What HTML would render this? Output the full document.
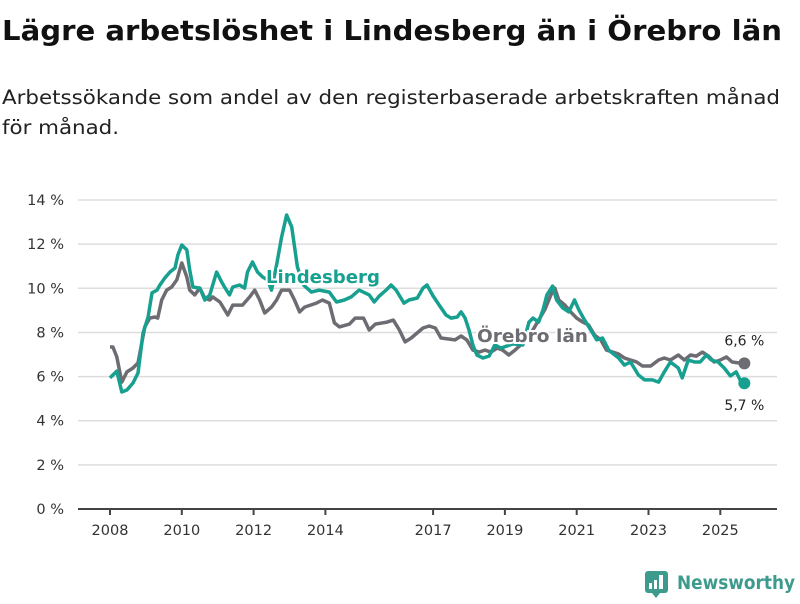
<!DOCTYPE html>
<html><head><meta charset="utf-8"><style>
body{margin:0;background:#fff;width:800px;height:600px;overflow:hidden;font-family:"DejaVu Sans","Liberation Sans",sans-serif}
</style></head><body>
<svg id="chart" width="800" height="600" xmlns="http://www.w3.org/2000/svg" font-family="DejaVu Sans, Liberation Sans, sans-serif">
<text x="2" y="40" font-size="28" font-weight="bold" fill="#111" textLength="780" lengthAdjust="spacingAndGlyphs">Lägre arbetslöshet i Lindesberg än i Örebro län</text>
<text x="2" y="104" font-size="19.5" fill="#222" textLength="778" lengthAdjust="spacingAndGlyphs">Arbetssökande som andel av den registerbaserade arbetskraften månad</text>
<text x="2" y="134" font-size="19.5" fill="#222" textLength="117" lengthAdjust="spacingAndGlyphs">för månad.</text>
<g id="grid"></g><g id="yticks"></g><g id="xaxis"></g><g id="lines"></g><g id="labels"></g>
<g>
<rect x="645" y="571" width="23" height="22" rx="3" fill="#3d9b8e"/>
<path d="M652 593 L656 598 L660 593Z" fill="#3d9b8e"/>
<rect x="649" y="583" width="3" height="6" fill="#fff"/><rect x="654" y="580" width="3" height="9" fill="#fff"/><rect x="659" y="575" width="4" height="14" fill="#fff"/>
<text x="677" y="589" font-size="19" font-weight="bold" fill="#3d9b8e" textLength="118" lengthAdjust="spacingAndGlyphs">Newsworthy</text>
</g>
</svg>
<script>
const yTicks=[0,2,4,6,8,10,12,14];
const xTicks=[2008,2010,2012,2014,2017,2019,2021,2023,2025];
const greyYears=[2008.0,2008.08,2008.19,2008.33,2008.47,2008.64,2008.78,2008.97,2009.11,2009.25,2009.33,2009.44,2009.58,2009.72,2009.86,2010.0,2010.14,2010.22,2010.36,2010.5,2010.64,2010.78,2010.86,2011.06,2011.28,2011.42,2011.69,2011.89,2012.03,2012.17,2012.31,2012.5,2012.64,2012.78,2013.0,2013.14,2013.28,2013.42,2013.75,2013.92,2014.11,2014.25,2014.39,2014.67,2014.83,2015.06,2015.22,2015.39,2015.72,2015.89,2016.06,2016.22,2016.39,2016.72,2016.89,2017.06,2017.22,2017.61,2017.78,2017.94,2018.11,2018.28,2018.44,2018.61,2018.78,2018.94,2019.11,2019.28,2019.44,2019.61,2019.78,2019.94,2020.11,2020.28,2020.39,2020.5,2020.67,2020.83,2021.0,2021.17,2021.33,2021.5,2021.67,2021.83,2022.0,2022.17,2022.33,2022.5,2022.67,2022.83,2023.06,2023.28,2023.44,2023.61,2023.83,2024.0,2024.17,2024.33,2024.5,2024.67,2024.83,2025.0,2025.17,2025.33,2025.5,2025.67];
const greyValues=[7.34,7.34,6.89,5.75,6.21,6.39,6.62,8.25,8.65,8.70,8.65,9.47,9.92,10.06,10.38,11.15,10.51,9.92,9.70,10.01,9.56,9.47,9.61,9.38,8.79,9.24,9.24,9.61,9.92,9.47,8.88,9.15,9.47,9.92,9.92,9.47,8.93,9.15,9.33,9.47,9.33,8.43,8.25,8.38,8.65,8.65,8.11,8.38,8.47,8.56,8.11,7.57,7.75,8.20,8.29,8.20,7.75,7.66,7.84,7.66,7.20,7.11,7.20,7.11,7.29,7.20,6.98,7.20,7.43,7.75,8.11,8.56,9.02,9.70,10.01,9.47,9.24,8.93,8.65,8.47,8.34,7.88,7.66,7.20,7.11,7.02,6.84,6.75,6.66,6.48,6.48,6.75,6.84,6.75,6.98,6.75,6.98,6.93,7.11,6.93,6.66,6.75,6.89,6.66,6.62,6.6];
const tealYears=[2008.0,2008.19,2008.33,2008.47,2008.64,2008.78,2008.92,2009.06,2009.17,2009.31,2009.39,2009.53,2009.67,2009.81,2009.89,2010.0,2010.14,2010.22,2010.31,2010.5,2010.64,2010.78,2010.97,2011.11,2011.19,2011.33,2011.42,2011.61,2011.75,2011.83,2011.97,2012.11,2012.25,2012.39,2012.5,2012.64,2012.78,2012.92,2013.06,2013.22,2013.39,2013.61,2013.83,2014.11,2014.31,2014.53,2014.72,2014.94,2015.22,2015.36,2015.5,2015.69,2015.83,2015.97,2016.19,2016.33,2016.56,2016.72,2016.83,2017.0,2017.17,2017.36,2017.5,2017.67,2017.78,2017.89,2018.0,2018.11,2018.22,2018.39,2018.56,2018.72,2018.89,2019.22,2019.5,2019.67,2019.78,2019.94,2020.06,2020.17,2020.33,2020.44,2020.61,2020.78,2020.94,2021.06,2021.22,2021.39,2021.56,2021.72,2021.89,2022.06,2022.17,2022.33,2022.5,2022.72,2022.89,2023.11,2023.28,2023.44,2023.61,2023.83,2023.94,2024.11,2024.28,2024.44,2024.61,2024.75,2024.94,2025.11,2025.28,2025.44,2025.61,2025.67];
const tealValues=[5.94,6.25,5.30,5.39,5.71,6.16,7.97,8.70,9.79,9.92,10.15,10.47,10.74,10.92,11.51,11.96,11.74,10.83,10.06,10.01,9.47,9.70,10.74,10.29,10.06,9.70,10.06,10.15,10.01,10.74,11.19,10.74,10.51,10.38,9.92,11.06,12.32,13.32,12.78,10.97,10.15,9.83,9.92,9.83,9.38,9.47,9.61,9.92,9.70,9.38,9.65,9.92,10.15,9.92,9.33,9.47,9.56,10.01,10.15,9.65,9.24,8.79,8.65,8.70,8.93,8.65,8.11,7.43,6.98,6.84,6.93,7.43,7.29,7.48,7.43,8.47,8.65,8.47,9.02,9.70,10.10,9.47,9.11,8.93,9.47,9.02,8.56,8.11,7.66,7.75,7.20,6.98,6.84,6.52,6.66,6.07,5.85,5.85,5.75,6.21,6.66,6.39,5.94,6.75,6.66,6.66,6.98,6.75,6.66,6.39,6.03,6.21,5.66,5.7];
const NS="http://www.w3.org/2000/svg";
const X=y=>110+(y-2008)*35.9;
const Y=v=>509-v*22.07;
function mk(t,a,p){const e=document.createElementNS(NS,t);for(const k in a)e.setAttribute(k,a[k]);p.appendChild(e);return e;}
const grid=document.getElementById('grid'),yt=document.getElementById('yticks');
yTicks.forEach(v=>{
 const l=mk('line',{x1:78,x2:777,y1:Y(v),y2:Y(v),stroke:v===0?'#444':'#ddd','stroke-width':v===0?2:1.5},grid);
 
 
 const t=mk('text',{x:64,y:Y(v)+5,'text-anchor':'end','font-size':14.5,fill:'#333'},yt);
 t.textContent=v+' %';
 
 
});
const xa=document.getElementById('xaxis');
xTicks.forEach(yr=>{
 const l=mk('line',{x1:X(yr),x2:X(yr),y1:509,y2:515,stroke:'#444','stroke-width':2},xa);
 
 
 const t=mk('text',{x:X(yr),y:535,'text-anchor':'middle','font-size':14.5,fill:'#333'},xa);
 t.textContent=yr;
 
 
});
const lines=document.getElementById('lines');
function path(ys,vs){return ys.map((y,i)=>(i?'L':'M')+X(y).toFixed(1)+' '+Y(vs[i]).toFixed(1)).join(' ');}
const pg=mk('path',{d:path(greyYears,greyValues),fill:'none',stroke:'#6d6c72','stroke-width':3.5,'stroke-linejoin':'round'},lines);


const pt=mk('path',{d:path(tealYears,tealValues),fill:'none',stroke:'#17a090','stroke-width':3.5,'stroke-linejoin':'round'},lines);


const gl=greyYears.length-1,tl=tealYears.length-1;
const dg=mk('circle',{cx:X(greyYears[gl]),cy:Y(greyValues[gl]),r:6,fill:'#6d6c72'},lines);


const dt=mk('circle',{cx:X(tealYears[tl]),cy:Y(tealValues[tl]),r:6,fill:'#17a090'},lines);


const lb=document.getElementById('labels');
const vg=mk('text',{x:X(greyYears[gl]),y:Y(greyValues[gl])-18,'text-anchor':'middle','font-size':14,fill:'#222'},lb);
vg.textContent=greyValues[gl].toFixed(1).replace('.',',')+' %';


const vt=mk('text',{x:X(tealYears[tl]),y:Y(tealValues[tl])+27,'text-anchor':'middle','font-size':14,fill:'#222'},lb);
vt.textContent=tealValues[tl].toFixed(1).replace('.',',')+' %';


const sl=mk('text',{x:266,y:283,'font-size':18,'font-weight':'bold',fill:'#17a090',stroke:'#fff','stroke-width':4,'paint-order':'stroke',textLength:114,lengthAdjust:'spacingAndGlyphs'},lb);
sl.textContent='Lindesberg';


const so=mk('text',{x:477,y:342,'font-size':18,'font-weight':'bold',fill:'#6d6c72',stroke:'#fff','stroke-width':4,'paint-order':'stroke',textLength:111,lengthAdjust:'spacingAndGlyphs'},lb);
so.textContent='Örebro län';


</script>
</body></html>
